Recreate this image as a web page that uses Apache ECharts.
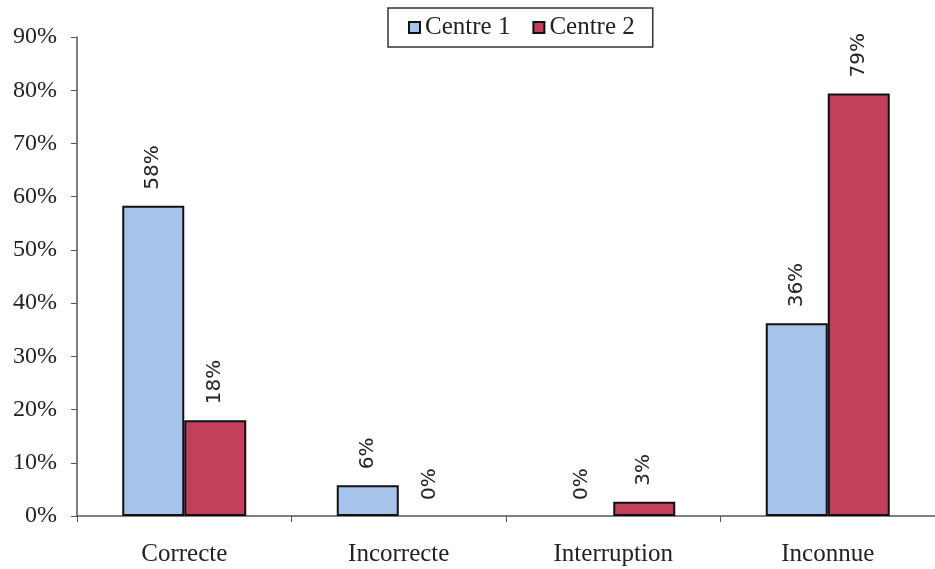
<!DOCTYPE html>
<html><head><meta charset="utf-8">
<script src="https://cdn.jsdelivr.net/npm/echarts@6/dist/echarts.min.js"></script>
<style>html,body{margin:0;padding:0;background:#fff}#c{width:935px;height:569px}</style>
</head><body><div id="c"></div>
<script>
const categories = ['Correcte', 'Incorrecte', 'Interruption', 'Inconnue'];
const centre1 = [58.3, 5.8, 0, 36.2];
const centre2 = [18, 0, 2.7, 79.4];
const seriesNames = ['Centre 1', 'Centre 2'];

const chart = echarts.init(document.getElementById('c'));
const lbl = {
  show: true, position: 'top', rotate: 90, align: 'left', verticalAlign: 'middle',
  distance: 16, fontFamily: 'DejaVu Sans', fontSize: 20, color: '#222',
  formatter: p => Math.round(p.value) + '%'
};
const items = arr => arr.map(v => v === 0 ? { value: v, itemStyle: { color: 'rgba(0,0,0,0)', borderColor: 'rgba(0,0,0,0)', borderWidth: 0 } } : v);
chart.setOption({
  animation: false,
  grid: { left: 77, right: 0, top: 37, bottom: 53, containLabel: false },
  legend: {
    data: seriesNames, top: 8, left: 388,
    itemWidth: 11, itemHeight: 11, itemGap: 22,
    borderColor: '#333', borderWidth: 1.5, padding: [7, 18, 7, 20],
    textStyle: { fontFamily: 'Liberation Serif', fontSize: 25, color: '#222' },
    icon: 'rect'
  },
  xAxis: {
    type: 'category', data: categories,
    axisLine: { lineStyle: { color: '#555', width: 1.5 } },
    axisTick: { show: true, length: 6, lineStyle: { color: '#555' } },
    axisLabel: { fontFamily: 'Liberation Serif', fontSize: 25, color: '#222', margin: 26 }
  },
  yAxis: {
    type: 'value', min: 0, max: 90, interval: 10,
    axisLine: { show: true, lineStyle: { color: '#555', width: 1.5 } },
    axisTick: { show: true, length: 6, lineStyle: { color: '#555' } },
    splitLine: { show: false },
    axisLabel: { fontFamily: 'Liberation Serif', fontSize: 24, color: '#222', margin: 20, formatter: '{value}%' }
  },
  series: [
    { name: seriesNames[0], type: 'bar', data: items(centre1), barWidth: 62, barGap: '0%',
      itemStyle: { color: '#a6c3ea', borderColor: '#111', borderWidth: 2 }, label: lbl },
    { name: seriesNames[1], type: 'bar', data: items(centre2), barWidth: 62,
      itemStyle: { color: '#c2405b', borderColor: '#111', borderWidth: 2 }, label: lbl }
  ]
});
</script></body></html>
